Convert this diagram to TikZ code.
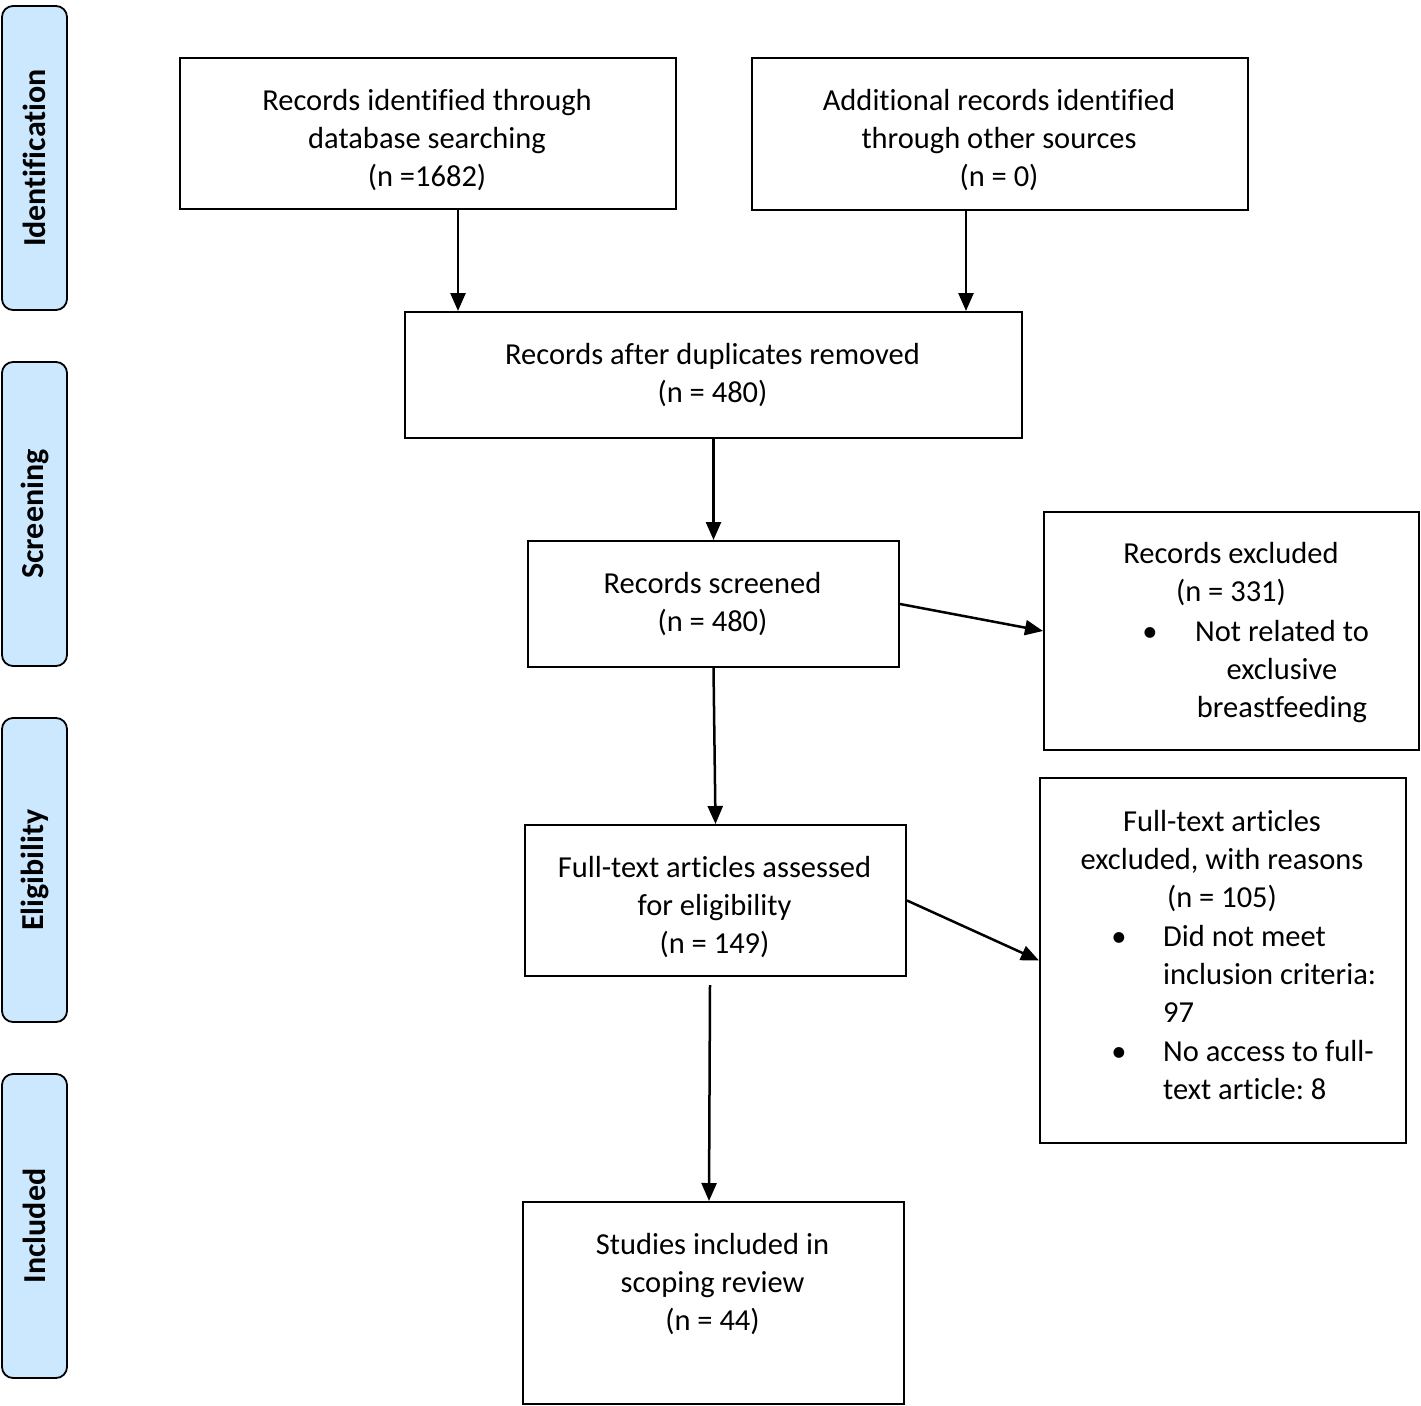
\documentclass[tikz,border=0pt]{standalone}
\usepackage{fontspec}
\setmainfont{Carlito}[Ligatures={NoCommon,NoRare,NoContextual}]
\usetikzlibrary{arrows.meta}
\definecolor{sideblue}{HTML}{CCE8FF}
\begin{document}
\begin{tikzpicture}[x=1pt,y=-1pt,
  box/.style={draw,line width=2pt,inner sep=0pt,anchor=north west},
  side/.style={draw,line width=1.8pt,fill=sideblue,rounded corners=11pt,rotate=90,
    minimum width=304pt,minimum height=65pt,inner sep=0pt,
    font=\fontsize{32}{38}\selectfont\bfseries},
  txt/.style={inner sep=0pt,anchor=base,font=\fontsize{30.5}{38}\selectfont},
  ltxt/.style={txt,anchor=base west},
  arr/.style={line width=2.5pt,-{Triangle[length=18pt,width=15pt]}}]
\useasboundingbox (0,0) rectangle (1421,1405);

% phase labels
\node[side] (sid) at (34.5,158) {Identification};
\node[side] (sscr) at (34.5,514) {Screening};
\node[side] (selig) at (34.5,870) {Eligibility};
\node[side] (sincl) at (34.5,1226) {Included};

% boxes
\node[box,minimum width=496pt,minimum height=151pt] (b1) at (179,57) {};
\node[box,minimum width=496pt,minimum height=152pt] (b2) at (751,57) {};
\node[box,minimum width=617pt,minimum height=126pt] (b3) at (404,311) {};
\node[box,minimum width=371pt,minimum height=126pt] (b4) at (527,540) {};
\node[box,minimum width=375pt,minimum height=238pt] (b5) at (1043,511) {};
\node[box,minimum width=381pt,minimum height=151pt] (b6) at (524,824) {};
\node[box,minimum width=366pt,minimum height=365pt] (b7) at (1039,777) {};
\node[box,minimum width=381pt,minimum height=202pt] (b8) at (522,1201) {};

% texts
\node[txt] (t1a) at (427,110) {Records identified through};
\node[txt] (t1b) at (427,148) {database searching};
\node[txt] (t1c) at (427,186) {(n =1682)};

\node[txt] (t2a) at (999,110) {Additional records identified};
\node[txt] (t2b) at (999,148) {through other sources};
\node[txt] (t2c) at (999,186) {(n = 0)};

\node[txt] (t3a) at (712.5,364) {Records after duplicates removed};
\node[txt] (t3b) at (712.5,402) {(n = 480)};

\node[txt] (t4a) at (712.5,593) {Records screened};
\node[txt] (t4b) at (712.5,631) {(n = 480)};

\node[txt] (t5a) at (1231,563) {Records excluded};
\node[txt] (t5b) at (1231,601) {(n = 331)};
\node[txt] (t5u) at (1150,641) {•};
\node[txt] (t5c) at (1282,641) {Not related to};
\node[txt] (t5d) at (1282,679) {exclusive};
\node[txt] (t5e) at (1282,717) {breastfeeding};

\node[txt] (t6a) at (714.5,877) {Full-text articles assessed};
\node[txt] (t6b) at (714.5,915) {for eligibility};
\node[txt] (t6c) at (714.5,953) {(n = 149)};

\node[txt] (t7a) at (1222,831) {Full-text articles};
\node[txt] (t7b) at (1222,869) {excluded, with reasons};
\node[txt] (t7c) at (1222,907) {(n = 105)};
\node[txt] (t7u) at (1119,946) {•};
\node[ltxt] (t7d) at (1163,946) {Did not meet};
\node[ltxt] (t7e) at (1163,984) {inclusion criteria:};
\node[ltxt] (t7f) at (1163,1022) {97};
\node[txt] (t7v) at (1119,1061) {•};
\node[ltxt] (t7g) at (1163,1061) {No access to full-};
\node[ltxt] (t7h) at (1163,1099) {text article:\ 8};

\node[txt] (t8a) at (712.5,1254) {Studies included in};
\node[txt] (t8b) at (712.5,1292) {scoping review};
\node[txt] (t8c) at (712.5,1330) {(n = 44)};

% connectors
\draw[arr] (458,0 |- b1.south) -- (458,0 |- b3.north);
\draw[arr] (966,0 |- b2.south) -- (966,0 |- b3.north);
\draw[arr] (b3.south) -- (b4.north);
\draw[arr] (b4.south) -- (b6.north);
\draw[arr] (b4.east) -- (b5.west);
\draw[arr] (b6.east) -- (b7.west);
\coordinate (c6) at (710,985);
\draw[arr] (c6) -- (709,0 |- b8.north);
\end{tikzpicture}
\end{document}
